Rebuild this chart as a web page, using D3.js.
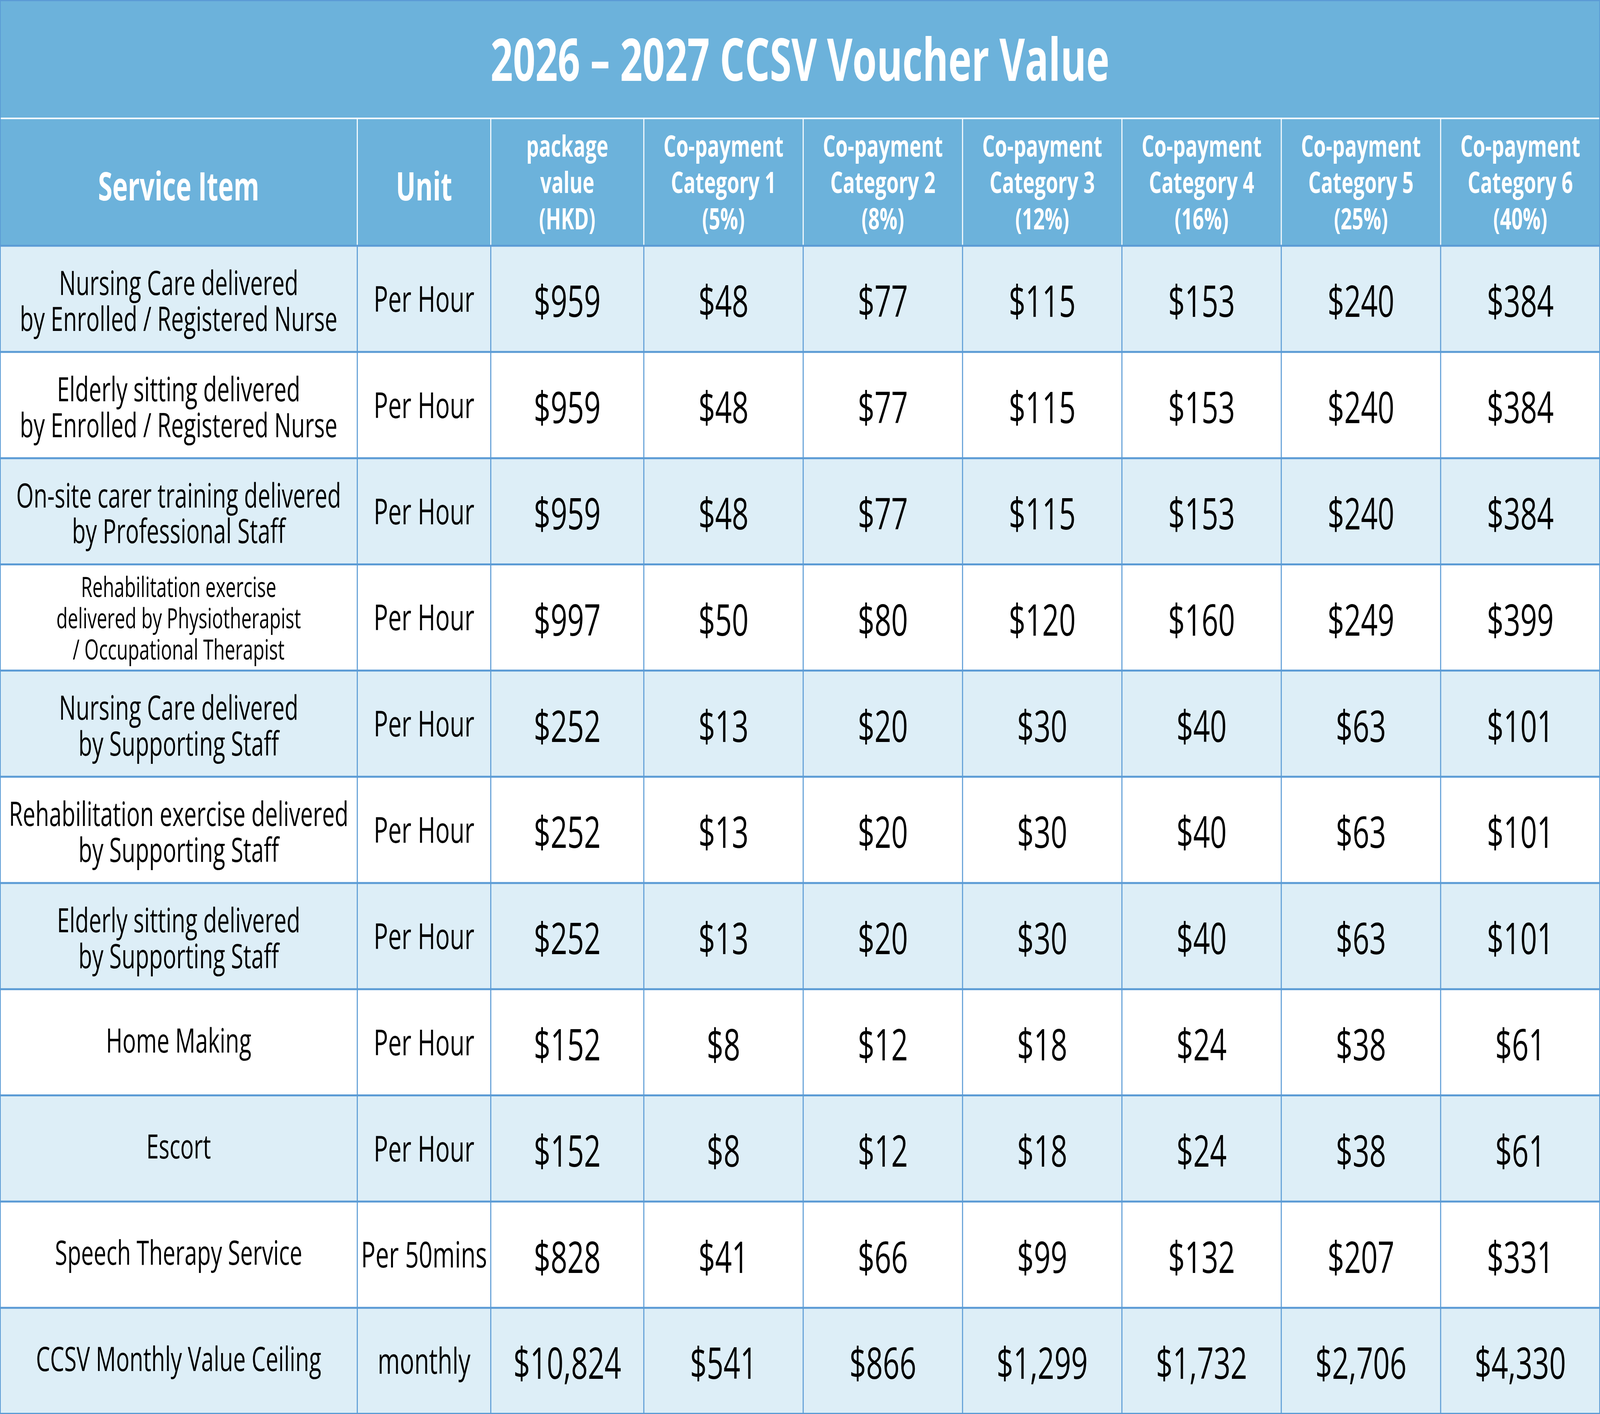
<!DOCTYPE html>
<html lang="en">
<head>
<meta charset="utf-8">
<script src="https://cdn.jsdelivr.net/npm/d3@7"></script>
<style>
html, body { margin: 0; padding: 0; background: #fff; overflow: hidden; }
#chart { display: block; width: 100vw; height: 100vh; }
svg text { font-family: "Open Sans", sans-serif; text-anchor: middle; }
.title { fill: #fff; font-weight: 700; font-size: 150px; }
.head text { fill: #fff; font-weight: 700; }
.svc { fill: #000; }
.val { fill: #000; font-weight: 500; font-size: 112px; }
</style>
</head>
<body>
<svg id="chart" viewBox="0 0 6126 3619" preserveAspectRatio="none"></svg>
<script>

var title = "2026 – 2027 CCSV Voucher Value";

var headers = [
  ["Service Item"],
  ["Unit"],
  ["package", "value", "(HKD)"],
  ["Co-payment", "Category 1", "(5%)"],
  ["Co-payment", "Category 2", "(8%)"],
  ["Co-payment", "Category 3", "(12%)"],
  ["Co-payment", "Category 4", "(16%)"],
  ["Co-payment", "Category 5", "(25%)"],
  ["Co-payment", "Category 6", "(40%)"]
];

var services = [
  ["Nursing Care delivered", "by Enrolled / Registered Nurse"],
  ["Elderly sitting delivered", "by Enrolled / Registered Nurse"],
  ["On-site carer training delivered", "by Professional Staff"],
  ["Rehabilitation exercise", "delivered by Physiotherapist", "/ Occupational Therapist"],
  ["Nursing Care delivered", "by Supporting Staff"],
  ["Rehabilitation exercise delivered", "by Supporting Staff"],
  ["Elderly sitting delivered", "by Supporting Staff"],
  ["Home Making"],
  ["Escort"],
  ["Speech Therapy Service"],
  ["CCSV Monthly Value Ceiling"]
];

var units = ["Per Hour", "Per Hour", "Per Hour", "Per Hour", "Per Hour", "Per Hour",
             "Per Hour", "Per Hour", "Per Hour", "Per 50mins", "monthly"];

var packageValue = [959, 959, 959, 997, 252, 252, 252, 152, 152, 828, 10824];
var category1 = [48, 48, 48, 50, 13, 13, 13, 8, 8, 41, 541];
var category2 = [77, 77, 77, 80, 20, 20, 20, 12, 12, 66, 866];
var category3 = [115, 115, 115, 120, 30, 30, 30, 18, 18, 99, 1299];
var category4 = [153, 153, 153, 160, 40, 40, 40, 24, 24, 132, 1732];
var category5 = [240, 240, 240, 249, 63, 63, 63, 38, 38, 207, 2706];
var category6 = [384, 384, 384, 399, 101, 101, 101, 61, 61, 331, 4330];

var money = [packageValue, category1, category2, category3, category4, category5, category6];

var svg = d3.select("#chart"),
    width = 6126,
    height = 3619;

var titleH = 303, headBottom = 629;
var lineBlue = "#5b9bd5", headBlue = "#6cb2db", stripe = "#ddeef7";

// column edges: service item, unit, then money columns
var edges = [0, 1368, 1879, 2465];
var catX = d3.scaleBand().domain(d3.range(6)).range([2465, width]);
var colLeft = edges.slice(0, 3).concat(catX.domain().map(function(d) { return catX(d); }));
var colRight = colLeft.slice(1).concat([width]);
var colMid = colLeft.map(function(l, i) { return (l + colRight[i]) / 2; });

var y = d3.scaleBand().domain(d3.range(services.length)).range([headBottom, height]);

var fmt = d3.format(",");

function lines(sel, arr, cx, cy, lh) {
  var t = sel.append("text").attr("x", cx).attr("y", cy);
  arr.forEach(function(s, i) {
    t.append("tspan").attr("x", cx)
      .attr("y", cy + (i - (arr.length - 1) / 2) * lh)
      .attr("dy", "0.36em")
      .text(s);
  });
  return t;
}

// title band + header band
svg.append("rect").attr("width", width).attr("height", headBottom).attr("fill", headBlue);
svg.append("text").attr("class", "title").attr("x", width / 2).attr("y", 153).attr("dy", "0.36em").text(title);

// body rows
var rows = svg.selectAll(".row").data(services).enter().append("g").attr("class", "row");
rows.append("rect")
  .attr("x", 0).attr("y", function(d, i) { return y(i); })
  .attr("width", width).attr("height", y.bandwidth())
  .attr("fill", function(d, i) { return i % 2 === 0 ? stripe : "#fff"; });

// header texts
var head = svg.append("g").attr("class", "head");
headers.forEach(function(h, i) {
  if (h.length === 1) {
    lines(head, h, colMid[i], 477, 0).style("font-size", "100px");
  } else {
    lines(head, h, colMid[i], 467, 93).style("font-size", "76px");
  }
});

// service item + unit + values
rows.each(function(d, i) {
  var g = d3.select(this), cy = y(i) + y.bandwidth() / 2;
  if (d.length === 3) {
    lines(g, d, colMid[0], cy + 2, 80).attr("class", "svc").style("font-size", "71px");
  } else {
    lines(g, d, colMid[0], cy + (d.length === 1 ? -5 : 5), 92).attr("class", "svc").style("font-size", "86px");
  }
  lines(g, [units[i]], colMid[1], cy, 0).attr("class", "svc").style("font-size", "92px");
  money.forEach(function(series, j) {
    lines(g, ["$" + fmt(series[i])], colMid[j + 2], cy + 6, 0).attr("class", "val");
  });
});

// grid lines
var grid = svg.append("g");
// white lines inside header
grid.append("line").attr("x1", 0).attr("x2", width).attr("y1", titleH).attr("y2", titleH)
  .attr("stroke", "#fff").attr("stroke-width", 4);
colLeft.slice(1).forEach(function(x) {
  grid.append("line").attr("x1", x).attr("x2", x).attr("y1", titleH).attr("y2", headBottom)
    .attr("stroke", "#fff").attr("stroke-width", 4);
  grid.append("line").attr("x1", x).attr("x2", x).attr("y1", headBottom).attr("y2", height)
    .attr("stroke", lineBlue).attr("stroke-width", 4);
});
y.domain().forEach(function(i) {
  grid.append("line").attr("x1", 0).attr("x2", width).attr("y1", y(i)).attr("y2", y(i))
    .attr("stroke", lineBlue).attr("stroke-width", 5);
});
grid.append("rect").attr("x", 1.5).attr("y", 1.5).attr("width", width - 3).attr("height", height - 3)
  .attr("fill", "none").attr("stroke", lineBlue).attr("stroke-width", 3);

</script>
</body>
</html>
